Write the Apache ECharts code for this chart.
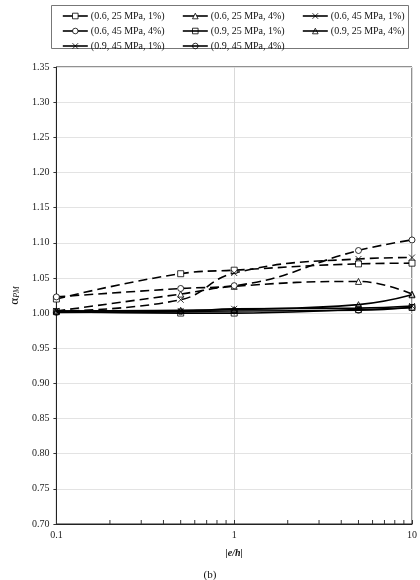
<!DOCTYPE html>
<html>
<head>
<meta charset="utf-8">
<script src="https://cdn.jsdelivr.net/npm/echarts@6/dist/echarts.min.js"></script>
<style>
  html, body { margin: 0; padding: 0; background: #fff; }
  #chart { width: 420px; height: 580px; }
</style>
</head>
<body>
<div id="chart"></div>
<script>
var ratios = [0.1, 0.5, 1, 5, 10];
var minorTicks = [0.2, 0.3, 0.4, 0.5, 0.6, 0.7, 0.8, 0.9, 2, 3, 4, 5, 6, 7, 8, 9];

var names = [
    '(0.6, 25 MPa, 1%)', '(0.6, 25 MPa, 4%)', '(0.6, 45 MPa, 1%)',
    '(0.6, 45 MPa, 4%)', '(0.9, 25 MPa, 1%)', '(0.9, 25 MPa, 4%)',
    '(0.9, 45 MPa, 1%)', '(0.9, 45 MPa, 4%)'
];

var a06_25_1 = [1.020, 1.056, 1.061, 1.070, 1.071];
var a06_25_4 = [1.003, 1.027, 1.038, 1.045, 1.027];
var a06_45_1 = [1.003, 1.019, 1.057, 1.077, 1.079];
var a06_45_4 = [1.023, 1.035, 1.039, 1.089, 1.104];
var a09_25_1 = [1.002, 1.000, 1.000, 1.005, 1.008];
var a09_25_4 = [1.003, 1.004, 1.005, 1.012, 1.026];
var a09_45_1 = [1.003, 1.003, 1.006, 1.007, 1.010];
var a09_45_4 = [1.001, 1.002, 1.003, 1.004, 1.008];

var values = [a06_25_1, a06_25_4, a06_45_1, a06_45_4, a09_25_1, a09_25_4, a09_45_1, a09_45_4];
var crossPath = 'path://M0,0L10,10M10,0L0,10';
var symbols = ['rect', 'triangle', crossPath, 'circle', 'rect', 'triangle', crossPath, 'circle'];

var serif = '"Liberation Serif", "DejaVu Serif", serif';

function pairs(ys) {
    return ys.map(function (y, i) { return [ratios[i], y]; });
}

var series = values.map(function (ys, i) {
    var dashed = i < 4;
    return {
        name: names[i],
        type: 'line',
        data: pairs(ys),
        smooth: 0.45,
        symbol: symbols[i],
        symbolSize: 6,
        itemStyle: {
            color: dashed ? '#fff' : 'rgba(0,0,0,0)',
            borderColor: '#000',
            borderWidth: 0.8
        },
        lineStyle: {
            color: '#000',
            width: 1.6,
            type: dashed ? [9, 5] : 'solid'
        },
        z: dashed ? 3 : 4
    };
});

// minor ticks on the log axis
series.push({
    type: 'custom',
    silent: true,
    data: minorTicks.map(function (t) { return [t, 0.7]; }),
    renderItem: function (params, api) {
        var p = api.coord([api.value(0), api.value(1)]);
        return {
            type: 'line',
            shape: { x1: p[0], y1: p[1], x2: p[0], y2: p[1] - 4 },
            style: { stroke: '#333', lineWidth: 1 }
        };
    },
    z: 5
});

function legendCol(left, idx) {
    return {
        orient: 'vertical',
        left: left,
        top: 11,
        padding: 0,
        itemWidth: 25,
        itemHeight: 7,
        itemGap: 5,
        data: idx.map(function (i) { return names[i]; }),
        textStyle: { fontFamily: serif, fontSize: 10, lineHeight: 8, color: '#111', padding: [0, 0, 0, -2] },
        itemStyle: { borderWidth: 0.8 },
        lineStyle: { type: 'solid', width: 1.6, color: '#000' }
    };
}

var option = {
    backgroundColor: '#fff',
    animation: false,
    title: {
        text: '(b)',
        left: 'center',
        top: 565,
        textStyle: { fontFamily: serif, fontSize: 11, fontWeight: 'normal', color: '#111' }
    },
    legend: [legendCol(62, [0, 3, 6]), legendCol(182, [1, 4, 7]), legendCol(302, [2, 5])],
    graphic: [{
        type: 'rect',
        shape: { x: 51.5, y: 5.5, width: 357, height: 43 },
        style: { fill: 'none', stroke: '#777', lineWidth: 1 }
    }],
    grid: {
        left: 51, right: 8, top: 67, bottom: 56,
        show: true, borderColor: '#222', borderWidth: 1
    },
    xAxis: {
        type: 'log',
        logBase: 10,
        min: 0.1,
        max: 10,
        name: '|e/h|',
        nameLocation: 'middle',
        nameGap: 24,
        nameTextStyle: { fontFamily: serif, fontSize: 10, fontStyle: 'italic', fontWeight: 'bold', color: '#111' },
        axisLine: { lineStyle: { color: '#222' } },
        axisTick: { inside: true, length: 4, lineStyle: { color: '#333' } },
        axisLabel: { fontFamily: serif, fontSize: 10, color: '#222', margin: 6 },
        splitLine: { show: true, lineStyle: { color: '#d9d9d9' } }
    },
    yAxis: {
        type: 'value',
        min: 0.7,
        max: 1.35,
        interval: 0.05,
        name: '{a|α}{s|PM}',
        nameLocation: 'middle',
        nameRotate: 90,
        nameGap: 27,
        nameTextStyle: {
            rich: {
                a: { fontFamily: serif, fontSize: 13, color: '#111' },
                s: { fontFamily: serif, fontSize: 8, fontStyle: 'italic', color: '#111', padding: [5, 0, 0, 0] }
            }
        },
        axisLine: { show: true, lineStyle: { color: '#222' } },
        axisTick: { show: true, length: 3, lineStyle: { color: '#333' } },
        axisLabel: {
            fontFamily: serif, fontSize: 10, color: '#222', margin: 7,
            formatter: function (v) { return v.toFixed(2); }
        },
        splitLine: { lineStyle: { color: '#e3e3e3' } }
    },
    series: series
};

var chart = echarts.init(document.getElementById('chart'));
chart.setOption(option);
</script>
</body>
</html>
